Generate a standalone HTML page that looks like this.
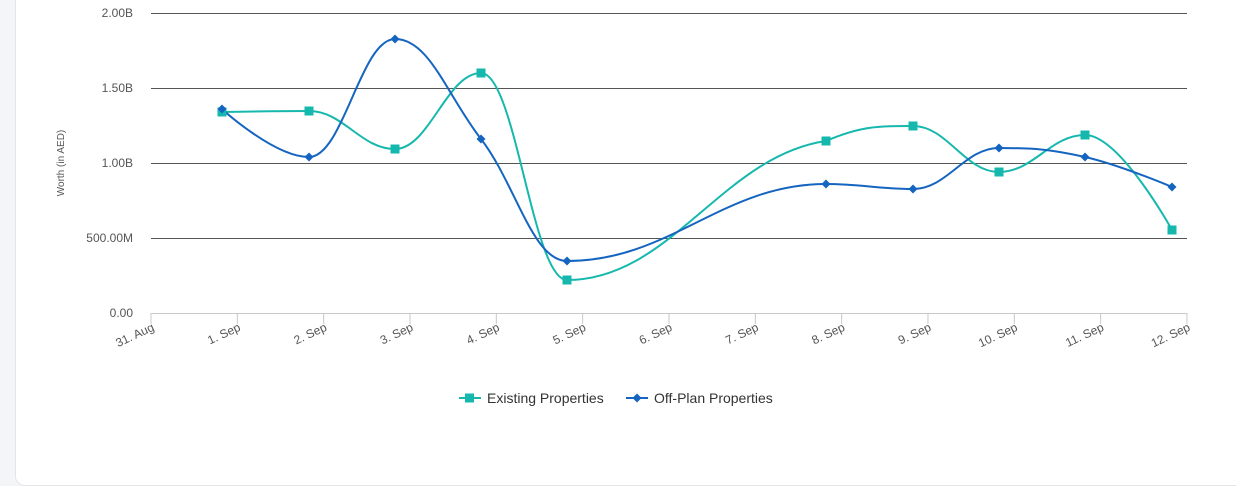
<!DOCTYPE html>
<html><head><meta charset="utf-8"><style>
html,body{margin:0;padding:0;background:#f4f5f7;width:1236px;height:486px;overflow:hidden;font-family:"Liberation Sans",sans-serif}
.card{position:absolute;left:15px;top:-20px;width:1240px;height:504px;background:#fff;border:1px solid #e3e5e8;border-radius:10px}
svg{position:absolute;left:0;top:0}
text{font-family:"Liberation Sans",sans-serif;fill:#555}
</style></head><body>
<div class="card"></div>
<svg width="1236" height="486" id="s">
<g stroke="#555" stroke-width="1">
<line x1="151" x2="1187" y1="13.5" y2="13.5"/>
<line x1="151" x2="1187" y1="88.5" y2="88.5"/>
<line x1="151" x2="1187" y1="163.5" y2="163.5"/>
<line x1="151" x2="1187" y1="238.5" y2="238.5"/>
</g>
<line x1="151" x2="1187" y1="313.5" y2="313.5" stroke="#c8c8c8"/>
<g font-size="12" text-anchor="end">
<text x="133" y="17">2.00B</text>
<text x="133" y="92">1.50B</text>
<text x="133" y="167">1.00B</text>
<text x="133" y="242">500.00M</text>
<text x="133" y="317">0.00</text>
</g>
<text transform="translate(64,163) rotate(-90)" font-size="10" text-anchor="middle">Worth (in AED)</text>
<g id="ticks"></g>
<g id="series"></g>
<g font-size="14" fill="#333">
<line x1="459" x2="481" y1="398" y2="398" stroke="#16b8ae" stroke-width="2"/>
<rect x="465" y="393.5" width="9" height="9" fill="#16b8ae"/>
<text x="487" y="403" style="fill:#333">Existing Properties</text>
<line x1="626" x2="648" y1="398" y2="398" stroke="#1565c0" stroke-width="2"/>
<path d="M637 393.5 L641.5 398 L637 402.5 L632.5 398Z" fill="#1565c0"/>
<text x="654" y="403" style="fill:#333">Off-Plan Properties</text>
</g>
</svg>
<script>
var NS="http://www.w3.org/2000/svg";
function el(t,a,p){var e=document.createElementNS(NS,t);for(var k in a)e.setAttribute(k,a[k]);p.appendChild(e);return e;}
var tk=document.getElementById("ticks");
var labels=["31. Aug","1. Sep","2. Sep","3. Sep","4. Sep","5. Sep","6. Sep","7. Sep","8. Sep","9. Sep","10. Sep","11. Sep","12. Sep"];
for(var i=0;i<13;i++){var x=151+i*86.33;
el("line",{x1:x,x2:x,y1:313,y2:324,stroke:"#c8c8c8"},tk);
var t=el("text",{x:x+4,y:330,"font-size":"12","text-anchor":"end",transform:"rotate(-25 "+(x+4)+" 330)"},tk);t.textContent=labels[i];}
function spline(p){var d="M"+p[0][0]+" "+p[0][1];var L=[],R=[];
for(var i=0;i<p.length;i++){if(i==0||i==p.length-1){L[i]=[p[i][0],p[i][1]];R[i]=[p[i][0],p[i][1]];continue;}
var x=p[i][0],y=p[i][1],px=p[i-1][0],py=p[i-1][1],nx=p[i+1][0],ny=p[i+1][1];
var lx=(1.5*x+px)/2.5,ly=(1.5*y+py)/2.5,rx=(1.5*x+nx)/2.5,ry=(1.5*y+ny)/2.5;
var j=((ry-ly)*(rx-x))/(rx-lx)+y-ry;ly+=j;ry+=j;
if(ly>py&&ly>y){ly=Math.max(py,y);ry=2*y-ly;}else if(ly<py&&ly<y){ly=Math.min(py,y);ry=2*y-ly;}
if(ry>ny&&ry>y){ry=Math.max(ny,y);ly=2*y-ry;}else if(ry<ny&&ry<y){ry=Math.min(ny,y);ly=2*y-ry;}
L[i]=[lx,ly];R[i]=[rx,ry];}
for(var i=1;i<p.length;i++)d+=" C"+R[i-1][0]+" "+R[i-1][1]+" "+L[i][0]+" "+L[i][1]+" "+p[i][0]+" "+p[i][1];
return d;}
var sg=document.getElementById("series");
var ex=[[222,112],[309,111],[395,149],[481,73],[567,280],[826,141],[913,126],[999,172],[1085,135],[1172,230]];
var op=[[222,109],[309,157],[395,39],[481,139],[567,261],[826,184],[913,189],[999,148],[1085,157],[1172,187]];
el("path",{d:spline(ex),fill:"none",stroke:"#16b8ae","stroke-width":2},sg);
el("path",{d:spline(op),fill:"none",stroke:"#1565c0","stroke-width":2},sg);
ex.forEach(function(q){el("rect",{x:q[0]-4.5,y:q[1]-4.5,width:9,height:9,fill:"#16b8ae"},sg);});
op.forEach(function(q){el("path",{d:"M"+q[0]+" "+(q[1]-4.5)+" L"+(q[0]+4.5)+" "+q[1]+" L"+q[0]+" "+(q[1]+4.5)+" L"+(q[0]-4.5)+" "+q[1]+"Z",fill:"#1565c0"},sg);});
</script>
</body></html>
